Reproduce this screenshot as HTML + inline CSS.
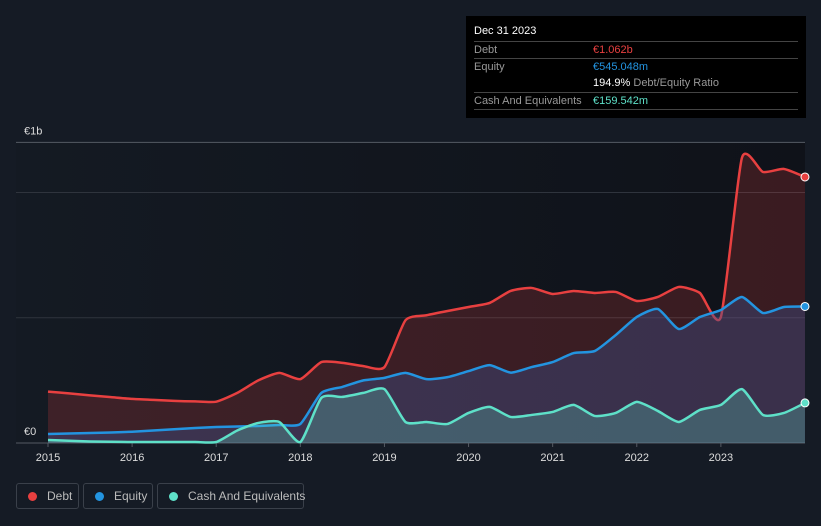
<!DOCTYPE html>
<html><head><meta charset="utf-8"><style>
body{margin:0;background:#151b25;width:821px;height:526px;overflow:hidden;font-family:"Liberation Sans",sans-serif;}
#tt{position:absolute;left:466px;top:16px;width:340px;height:102px;background:#000;color:#fff;font-size:11px;}
.r{position:absolute;left:8px;right:8px;border-top:1px solid #444;height:16px;line-height:16px;color:#999}
.r span{position:absolute;left:119px}
.lg{position:absolute;top:483px;height:26px;border:1px solid #3a404a;border-radius:3px;color:#bbb;font-size:12px;line-height:25px;box-sizing:border-box;white-space:nowrap}
.lg i{display:inline-block;width:9px;height:9px;border-radius:50%;margin:0 10px 0 11px;vertical-align:-1px}
</style></head><body>
<svg id="c" width="821" height="526" style="position:absolute;left:0;top:0">
<defs><linearGradient id="pbg" x1="0" x2="1"><stop offset="0" stop-color="#141a23"/><stop offset="1" stop-color="#0f1219"/></linearGradient></defs>
<rect x="16" y="143" width="789" height="300" fill="url(#pbg)"/>
</svg>
<div id="tt">
<div style="position:absolute;left:8px;top:9px;font-size:11px">Dec 31 2023</div>
<div class="r" style="top:25px">Debt<span style="color:#e84040">€1.062b</span></div>
<div class="r" style="top:42px">Equity<span style="color:#2394e0">€545.048m</span></div>
<div class="r" style="top:59px;border:0"><span><b style="color:#fff;font-weight:normal">194.9%</b> Debt/Equity Ratio</span></div>
<div class="r" style="top:76px">Cash And Equivalents<span style="color:#5ee0c8">€159.542m</span></div>
<div class="r" style="top:93px;height:0"></div>
</div>
<div class="lg" style="left:16px;width:63px"><i style="background:#e84040"></i>Debt</div>
<div class="lg" style="left:83px;width:70px"><i style="background:#2394e0"></i>Equity</div>
<div class="lg" style="left:157px;width:147px"><i style="background:#5ee0c8"></i>Cash And Equivalents</div>
<script>
const dates=[2015,2015.25,2015.5,2015.75,2016,2016.25,2016.5,2016.75,2017,2017.25,2017.5,2017.75,2018,2018.25,2018.5,2018.75,2019,2019.25,2019.5,2019.75,2020,2020.25,2020.5,2020.75,2021,2021.25,2021.5,2021.75,2022,2022.25,2022.5,2022.75,2023,2023.25,2023.5,2023.75,2024];
const debt=[0.205,0.198,0.19,0.183,0.176,0.172,0.168,0.166,0.165,0.2,0.25,0.28,0.255,0.323,0.32,0.307,0.303,0.49,0.51,0.527,0.543,0.559,0.607,0.619,0.595,0.607,0.599,0.603,0.567,0.583,0.623,0.599,0.503,1.138,1.082,1.094,1.062];
const equity=[0.036,0.038,0.04,0.042,0.045,0.05,0.055,0.06,0.064,0.066,0.068,0.072,0.076,0.2,0.224,0.25,0.26,0.28,0.255,0.263,0.287,0.311,0.281,0.303,0.323,0.359,0.367,0.431,0.503,0.535,0.455,0.503,0.531,0.583,0.519,0.543,0.545];
const cash=[0.012,0.009,0.006,0.005,0.004,0.004,0.004,0.004,0.004,0.05,0.08,0.084,0.004,0.18,0.184,0.2,0.215,0.084,0.084,0.076,0.12,0.144,0.104,0.112,0.124,0.152,0.108,0.12,0.164,0.128,0.084,0.132,0.152,0.215,0.112,0.12,0.16];
const yTicks=[0,0.5,1,1.2];
const xTicks=[2015,2016,2017,2018,2019,2020,2021,2022,2023];
const X=d=>48+(d-2015)*84.11, Y=v=>443-v*250.5;
const svg=document.getElementById('c'),NS='http://www.w3.org/2000/svg';
function mk(t,a){const e=document.createElementNS(NS,t);for(const k in a)e.setAttribute(k,a[k]);svg.appendChild(e);return e;}
yTicks.forEach(v=>{const l=mk('line',{x1:16,x2:805,y1:Y(v),y2:Y(v),stroke:v==0||v==1.2?'#555a63':'#2f343d','stroke-width':1});

});
[['€1b',1.2],['€0',0]].forEach(([t,v])=>{const e=mk('text',{x:24,y:Y(v)-8,fill:'#ddd','font-size':11});e.textContent=t;

});
xTicks.forEach(d=>{mk('line',{x1:X(d),x2:X(d),y1:443,y2:447,stroke:'#555a63'});const e=mk('text',{x:X(d),y:461,fill:'#ddd','font-size':11,'text-anchor':'middle'});e.textContent=d;

});
function path(vals){const p=dates.map((d,i)=>[X(d),Y(vals[i])]);let s='M'+p[0];
for(let i=0;i<p.length-1;i++){const p0=p[i-1]||p[i],p1=p[i],p2=p[i+1],p3=p[i+2]||p2,t=0.1;
s+=`C${p1[0]+(p2[0]-p0[0])*t},${p1[1]+(p2[1]-p0[1])*t} ${p2[0]-(p3[0]-p1[0])*t},${p2[1]-(p3[1]-p1[1])*t} ${p2[0]},${p2[1]}`;}return s;}
[[debt,'#e84040','rgba(232,64,64,0.2)','debt'],[equity,'#2394e0','rgba(60,80,140,0.4)','equity'],[cash,'#5ee0c8','rgba(94,224,200,0.25)','cash']].forEach(([v,c,f,n])=>{
const d=path(v);const a=mk('path',{d:d+`L${X(2024)},443L${X(2015)},443Z`,fill:f});


const l=mk('path',{d:d,fill:'none',stroke:c,'stroke-width':2.5});


const e=mk('circle',{cx:X(2024),cy:Y(v[v.length-1]),r:4,fill:c,stroke:'#fff','stroke-width':1});

});
</script>
</body></html>
